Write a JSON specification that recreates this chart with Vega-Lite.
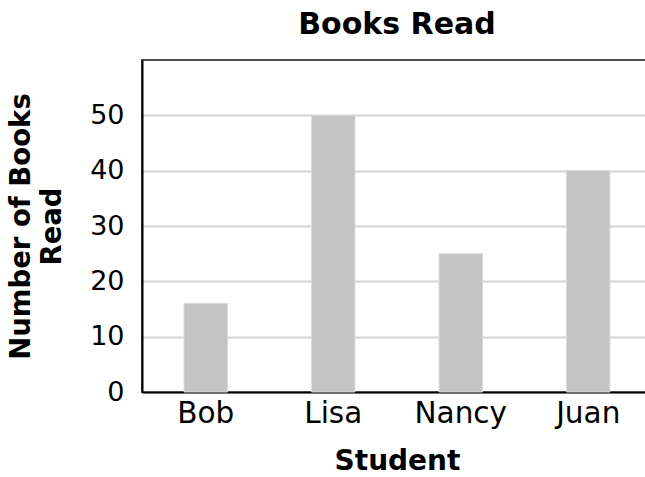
{
  "$schema": "https://vega.github.io/schema/vega-lite/v6.json",
  "autosize": {"type": "none"},
  "padding": {"left": 142, "top": 60, "right": 0, "bottom": 85},
  "width": 510,
  "height": 332,
  "background": "white",
  "title": {"text": "Books Read", "font": "DejaVu Sans", "fontSize": 30, "fontWeight": "bold", "color": "#000", "anchor": "middle", "offset": 20},
  "config": {
    "view": {"stroke": "#4d4d4d", "strokeWidth": 2},
    "axis": {"labelFont": "DejaVu Sans", "titleFont": "DejaVu Sans", "labelColor": "#000", "titleColor": "#000", "ticks": false}
  },
  "data": {"values": [
    {"student": "Bob", "books": 16},
    {"student": "Lisa", "books": 50},
    {"student": "Nancy", "books": 25},
    {"student": "Juan", "books": 40}
  ]},
  "mark": {"type": "bar", "color": "#c4c4c4", "stroke": "#d9d9d9", "strokeWidth": 1},
  "encoding": {
    "x": {"field": "student", "type": "nominal", "sort": null,
      "scale": {"paddingInner": 0.66, "paddingOuter": 0.33},
      "axis": {"title": "Student", "labelAngle": 0, "labelFontSize": 29.5, "labelPadding": 7, "titleFontSize": 28, "titleFontWeight": "bold", "titlePadding": 20, "domainColor": "#000", "domainWidth": 2, "grid": false}},
    "y": {"field": "books", "type": "quantitative",
      "scale": {"domain": [0, 60], "nice": false},
      "axis": {"title": ["Number of Books", "Read"], "values": [0, 10, 20, 30, 40, 50], "labelFontSize": 27, "labelPadding": 18, "titleFontSize": 27.5, "titleFontWeight": "bold", "titleLineHeight": 31, "titlePadding": 23, "domainColor": "#000", "domainWidth": 2, "gridColor": "#d3d3d3", "gridWidth": 2}}
  }
}
